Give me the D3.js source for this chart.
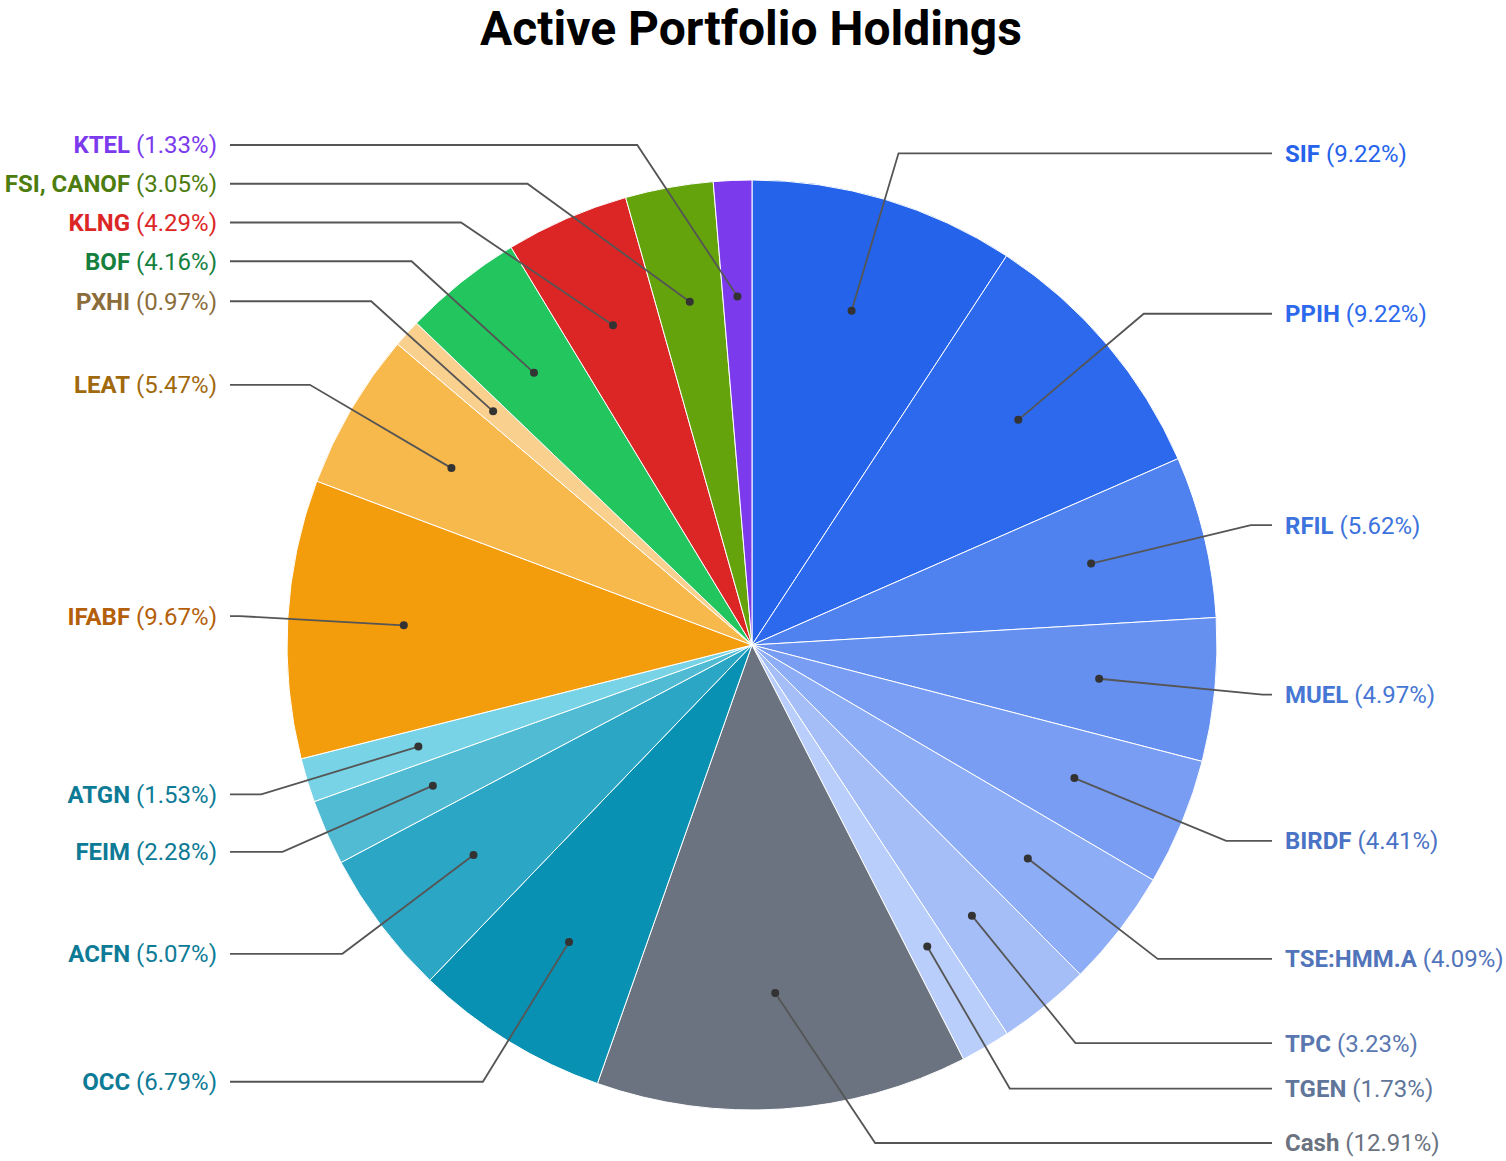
<!DOCTYPE html>
<html>
<head>
<meta charset="utf-8">
<script src="https://cdn.jsdelivr.net/npm/d3@7"></script>
<style>
  html, body { margin: 0; padding: 0; background: #fff; }
  svg { display: block; font-family: Roboto, "Noto Sans", sans-serif; }
</style>
</head>
<body>
<svg id="chart" width="1506" height="1161"></svg>
<script>
const tickers = ['SIF', 'PPIH', 'RFIL', 'MUEL', 'BIRDF', 'TSE:HMM.A', 'TPC', 'TGEN', 'Cash',
    'OCC', 'ACFN', 'FEIM', 'ATGN', 'IFABF', 'LEAT', 'PXHI', 'BOF', 'KLNG', 'FSI, CANOF', 'KTEL'];
const weights = [9.22, 9.22, 5.62, 4.97, 4.41, 4.09, 3.23, 1.73, 12.91,
    6.79, 5.07, 2.28, 1.53, 9.67, 5.47, 0.97, 4.16, 4.29, 3.05, 1.33];
const sliceColors = ['#2563eb', '#2d69ec', '#4f82ef', '#6690f0', '#799df3', '#8dadf6', '#a5bef8', '#bacefb', '#6b7280',
    '#0891b2', '#2ba6c4', '#51bbd4', '#77d3e5', '#f39c0c', '#f7b84c', '#fad08e', '#22c55e', '#dc2626', '#65a30d', '#7c3aed'];
const labelColors = ['#2563eb', '#2d69ec', '#3d73dc', '#4677d4', '#4a72c5', '#5274ba', '#5a77b0', '#5f7599', '#6b7280',
    '#0e7b96', '#0e7b96', '#0e7b96', '#0e7b96', '#b4600a', '#a1690e', '#8b6d3c', '#15803d', '#dc2626', '#4d7c0f', '#7c3aed'];

const data = tickers.map((t, i) => ({ name: t, value: weights[i], color: sliceColors[i], label: labelColors[i] }));

const svg = d3.select('#chart');
const cx = 752, cy = 645, radius = 465;
const dotR = radius * 0.75, elbowR = 513;
const minY = 145, maxY = 1143, gap = 38.75;

svg.append('text')
    .attr('x', 751)
    .attr('y', 45)
    .attr('text-anchor', 'middle')
    .style('font-size', '48px')
    .style('font-weight', 'bold')
    .style('fill', '#000')
    .text('Active Portfolio Holdings');

const g = svg.append('g').attr('transform', `translate(${cx},${cy})`);

const pie = d3.pie().value(d => d.value).sort(null);
const arcs = pie(data);

const arc = d3.arc().innerRadius(0).outerRadius(radius);

g.selectAll('path.slice')
    .data(arcs)
    .join('path')
    .attr('class', 'slice')
    .attr('d', arc)
    .attr('fill', d => d.data.color)
    .attr('stroke', '#fff')
    .style('stroke-width', '1px');

// label layout: dot inside the slice, elbow on a bigger circle, then flat to the label
arcs.forEach(d => {
    d.mid = (d.startAngle + d.endAngle) / 2;
    d.right = d.mid < Math.PI;
    d.dot = [dotR * Math.sin(d.mid), -dotR * Math.cos(d.mid)];
    d.ly = -elbowR * Math.cos(d.mid);
});

function spread(items) {
    items.sort((a, b) => a.ly - b.ly);
    items.forEach(d => { d.ly = Math.max(minY - cy, Math.min(maxY - cy, d.ly)); });
    for (let i = 1; i < items.length; i++) {
        items[i].ly = Math.max(items[i].ly, items[i - 1].ly + gap);
    }
    for (let i = items.length - 2; i >= 0; i--) {
        items[i].ly = Math.min(items[i].ly, items[i + 1].ly - gap);
    }
}
spread(arcs.filter(d => d.right));
spread(arcs.filter(d => !d.right));

arcs.forEach(d => {
    const dy = Math.min(Math.abs(d.ly), elbowR - 1);
    const ex = Math.sqrt(elbowR * elbowR - dy * dy);
    d.elbow = [d.right ? ex : -ex, d.ly];
    d.end = [d.right ? 1272 - cx : 230 - cx, d.ly];
});

g.selectAll('polyline.leader')
    .data(arcs)
    .join('polyline')
    .attr('class', 'leader')
    .attr('points', d => [d.dot, d.elbow, d.end].map(p => p.join(',')).join(' '))
    .attr('fill', 'none')
    .attr('stroke', '#555')
    .style('stroke-width', '1.8px');

g.selectAll('circle.dot')
    .data(arcs)
    .join('circle')
    .attr('class', 'dot')
    .attr('cx', d => d.dot[0])
    .attr('cy', d => d.dot[1])
    .attr('r', 4)
    .attr('fill', '#333');

const labels = g.selectAll('text.label')
    .data(arcs)
    .join('text')
    .attr('class', 'label')
    .attr('x', d => d.right ? 1285 - cx : 217 - cx)
    .attr('y', d => d.ly)
    .attr('dy', '0.35em')
    .attr('text-anchor', d => d.right ? 'start' : 'end')
    .style('font-size', '24px')
    .style('fill', d => d.data.label);

labels.append('tspan')
    .style('font-weight', 'bold')
    .text(d => d.data.name);

labels.append('tspan')
    .text(d => ` (${d.data.value.toFixed(2)}%)`);
</script>
</body>
</html>
